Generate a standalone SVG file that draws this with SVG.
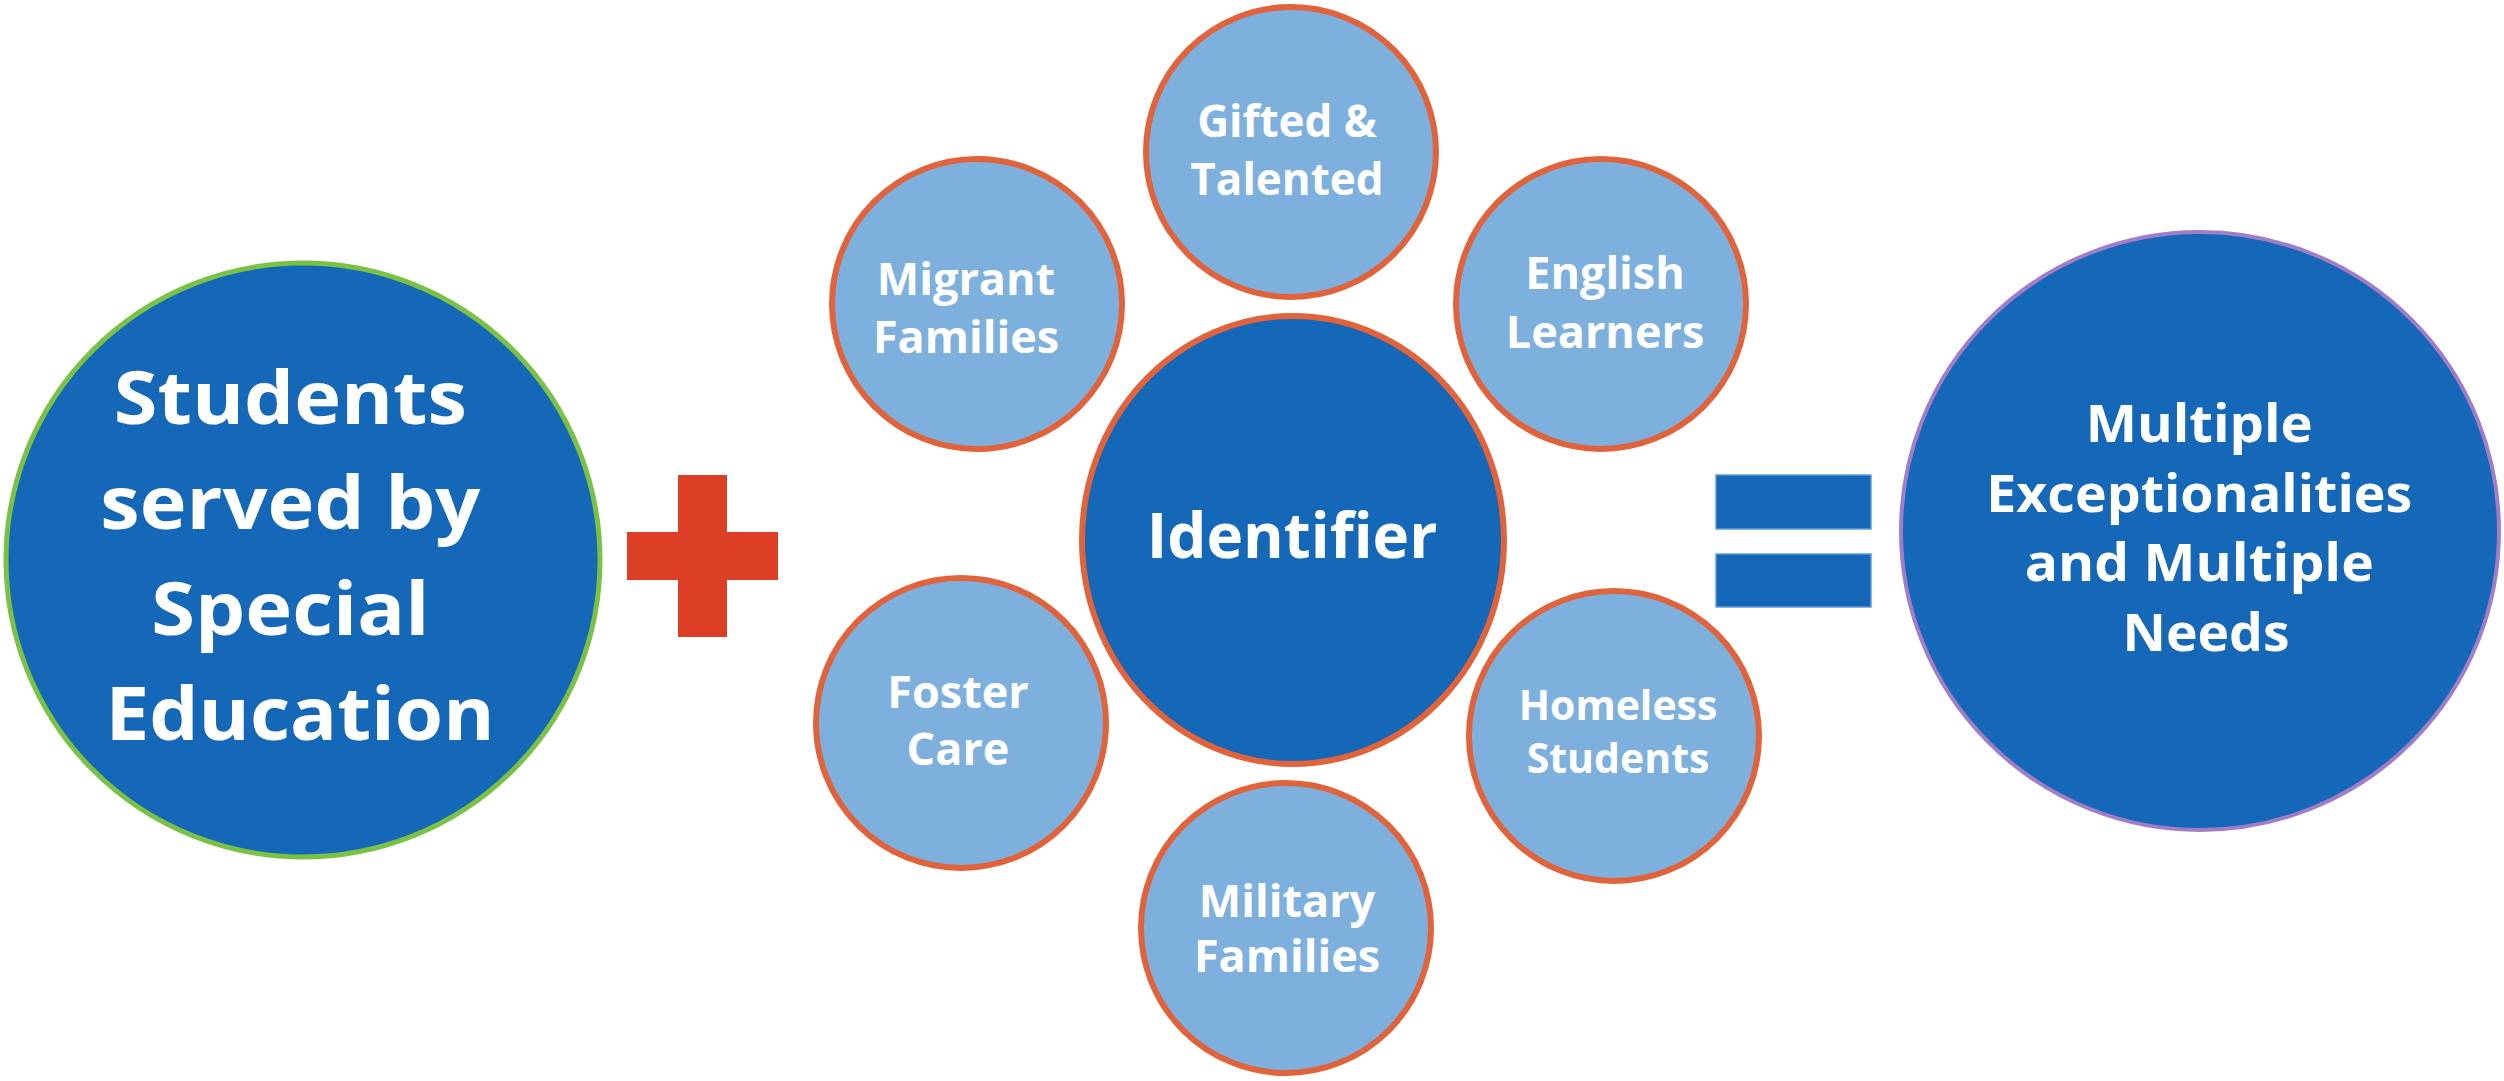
<svg xmlns="http://www.w3.org/2000/svg" width="2504" height="1081" viewBox="0 0 2504 1081">
  <style>
    .lbl { font-family: "Open Sans", "Liberation Sans", sans-serif; font-weight: 700; fill: #FFFFFF; text-anchor: middle; }
    .big { fill: #1567B7; }
    .small { fill: #7EB0DD; stroke: #E0633B; stroke-width: 6; }
    .core { fill: #1567B7; stroke: #E0633B; stroke-width: 6; }
  </style>
  <rect width="2504" height="1081" fill="#FFFFFF"/>

  <g id="operators">
    <g id="plus" fill="#DD3F26">
      <rect x="678" y="475" width="49" height="162"/>
      <rect x="627" y="532" width="151" height="48"/>
    </g>
    <g id="equals" fill="#1567B7" stroke="#5E9ED8" stroke-width="1.5">
      <rect x="1716" y="475" width="155" height="54"/>
      <rect x="1716" y="554" width="155" height="53"/>
    </g>
  </g>

  <g id="node-special-education">
    <circle class="big" cx="303" cy="560" r="297" stroke="#7BC146" stroke-width="5"/>
    <text class="lbl" font-size="74">
      <tspan x="300" y="424" textLength="353" lengthAdjust="spacingAndGlyphs">Students</tspan>
      <tspan x="300" y="529" textLength="380" lengthAdjust="spacingAndGlyphs">served by</tspan>
      <tspan x="300" y="635" textLength="278" lengthAdjust="spacingAndGlyphs">Special</tspan>
      <tspan x="300" y="740" textLength="389" lengthAdjust="spacingAndGlyphs">Education</tspan>
    </text>
  </g>

  <g id="node-gifted">
    <circle class="small" cx="1291" cy="152" r="145"/>
    <text class="lbl" font-size="44"><tspan x="1287" y="137">Gifted &amp;</tspan><tspan x="1287" y="195">Talented</tspan></text>
  </g>

  <g id="node-migrant">
    <circle class="small" cx="977" cy="304" r="145"/>
    <text class="lbl" font-size="45"><tspan x="966" y="295">Migrant</tspan><tspan x="966" y="353">Families</tspan></text>
  </g>

  <g id="node-english">
    <circle class="small" cx="1601" cy="304" r="145"/>
    <text class="lbl" font-size="45"><tspan x="1605" y="289">English</tspan><tspan x="1605" y="348">Learners</tspan></text>
  </g>

  <g id="node-identifier">
    <ellipse class="core" cx="1293" cy="540" rx="211" ry="224"/>
    <text class="lbl" font-size="62" x="1292" y="558">Identifier</text>
  </g>

  <g id="node-foster">
    <circle class="small" cx="961" cy="723" r="145"/>
    <text class="lbl" font-size="45"><tspan x="958" y="708">Foster</tspan><tspan x="958" y="765">Care</tspan></text>
  </g>

  <g id="node-homeless">
    <circle class="small" cx="1614" cy="736" r="145"/>
    <text class="lbl" font-size="41"><tspan x="1618" y="720">Homeless</tspan><tspan x="1618" y="773">Students</tspan></text>
  </g>

  <g id="node-military">
    <circle class="small" cx="1286" cy="928" r="145"/>
    <text class="lbl" font-size="45"><tspan x="1287" y="917">Military</tspan><tspan x="1287" y="972">Families</tspan></text>
  </g>

  <g id="node-multiple">
    <circle class="big" cx="2200" cy="531" r="299" stroke="#A07DC6" stroke-width="4"/>
    <text class="lbl" font-size="52">
      <tspan x="2206" y="442" textLength="227" lengthAdjust="spacingAndGlyphs">Multiple</tspan>
      <tspan x="2206" y="512" textLength="426" lengthAdjust="spacingAndGlyphs">Exceptionalities</tspan>
      <tspan x="2206" y="581" textLength="349" lengthAdjust="spacingAndGlyphs">and Multiple</tspan>
      <tspan x="2206" y="651" textLength="167" lengthAdjust="spacingAndGlyphs">Needs</tspan>
    </text>
  </g>
</svg>
